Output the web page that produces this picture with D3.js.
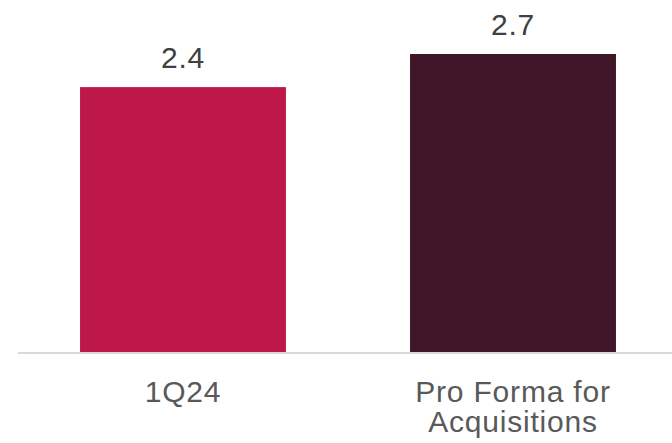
<!DOCTYPE html>
<html>
<head>
<meta charset="utf-8">
<script src="https://cdn.jsdelivr.net/npm/d3@7"></script>
<style>
  body { margin: 0; background: #fff; }
  text { font-family: "Liberation Sans", Arial, sans-serif; letter-spacing: 0.8px; }
</style>
</head>
<body>
<div class="canvas"></div>
<script>
// data
const categories = ['1Q24', 'Pro Forma for Acquisitions'];
const categoryLines = [['1Q24'], ['Pro Forma for', 'Acquisitions']];
const values = [2.4, 2.7];
const barColors = ['#be1848', '#3f1728'];

const width = 672;
const height = 443;
const baseY = 352;

const svg = d3.select('.canvas')
  .append('svg')
    .attr('width', width)
    .attr('height', height);

const x = d3.scaleBand()
  .domain(categories)
  .range([18, 678])
  .paddingInner(0.376)
  .paddingOuter(0.188);

const y = d3.scaleLinear()
  .domain([0, 2.7])
  .range([baseY, 54]);

const data = categories.map((c, i) => ({ cat: c, value: values[i], color: barColors[i], lines: categoryLines[i] }));

// bars
svg.selectAll('rect.bar')
  .data(data)
  .enter()
  .append('rect')
    .attr('class', 'bar')
    .attr('x', d => x(d.cat))
    .attr('y', d => y(d.value))
    .attr('width', x.bandwidth())
    .attr('height', d => baseY - y(d.value))
    .attr('fill', d => d.color);

// baseline
svg.append('line')
  .attr('x1', 18)
  .attr('x2', width)
  .attr('y1', baseY + 1)
  .attr('y2', baseY + 1)
  .attr('stroke', '#d9d9d9')
  .attr('stroke-width', 2);

// value labels
svg.selectAll('text.value')
  .data(data)
  .enter()
  .append('text')
    .attr('class', 'value')
    .attr('x', d => x(d.cat) + x.bandwidth() / 2)
    .attr('y', d => y(d.value) - 19)
    .attr('text-anchor', 'middle')
    .attr('font-size', 30)
    .attr('fill', '#404040')
    .text(d => d.value.toFixed(1));

// category labels
const catText = svg.selectAll('text.cat')
  .data(data)
  .enter()
  .append('text')
    .attr('class', 'cat')
    .attr('text-anchor', 'middle')
    .attr('font-size', 30)
    .attr('fill', '#595959');

catText.selectAll('tspan')
  .data(d => d.lines.map(l => ({ l, cx: x(d.cat) + x.bandwidth() / 2 })))
  .enter()
  .append('tspan')
    .attr('x', d => d.cx)
    .attr('y', (d, i) => 401.5 + i * 30)
    .text(d => d.l);
</script>
</body>
</html>
